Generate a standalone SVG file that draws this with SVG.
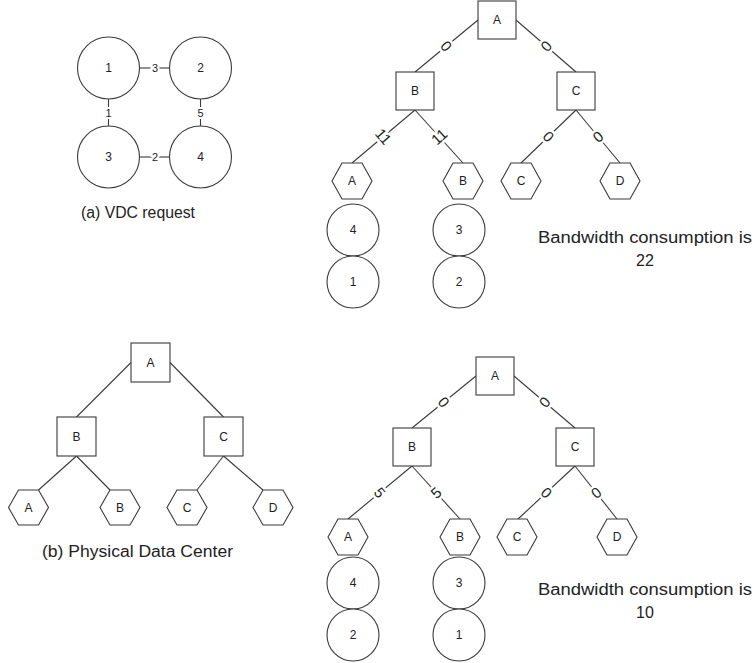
<svg xmlns="http://www.w3.org/2000/svg" xmlns:xlink="http://www.w3.org/1999/xlink" width="756" height="663" viewBox="0 0 756 663">
<style>
.shape{fill:#fff;stroke:#3a3a3a;stroke-width:1.1}
.edge{stroke:#3a3a3a;stroke-width:1.1;fill:none}
.lbl{font-family:"Liberation Sans",Arial,sans-serif;font-size:12px;fill:#222;text-anchor:middle;dominant-baseline:central}
.el{font-family:"Liberation Sans",Arial,sans-serif;font-size:15px;fill:#222;text-anchor:middle;dominant-baseline:central;stroke:#fff;stroke-width:5px;paint-order:stroke}
.vl{font-family:"Liberation Sans",Arial,sans-serif;font-size:11px;fill:#222;text-anchor:middle;dominant-baseline:central;stroke:#fff;stroke-width:4px;paint-order:stroke}
.cap{font-family:"Liberation Sans",Arial,sans-serif;font-size:16px;fill:#222}
</style>
<defs>
<polygon id="hex" class="shape" points="-20,0 -10,-18 10,-18 20,0 10,18 -10,18"/>
<polygon id="hexs" class="shape" points="-20,0 -10,-17.5 10,-17.5 20,0 10,17.5 -10,17.5"/>
</defs>

<!-- (a) VDC request -->
<g id="vdc-connectors">
<line class="edge" x1="139.5" y1="68" x2="169.5" y2="68"/>
<line class="edge" x1="108.5" y1="99" x2="108.5" y2="126"/>
<line class="edge" x1="200.5" y1="99" x2="200.5" y2="126"/>
<line class="edge" x1="139.5" y1="157" x2="169.5" y2="157"/>
<text class="vl" x="155" y="68">3</text>
<text class="vl" x="108.5" y="113">1</text>
<text class="vl" x="200.5" y="113">5</text>
<text class="vl" x="155" y="157">2</text>
</g>
<g id="vdc1"><circle class="shape" cx="108.5" cy="68" r="31"/><text class="lbl" x="108.5" y="68">1</text></g>
<g id="vdc2"><circle class="shape" cx="200.5" cy="68" r="31"/><text class="lbl" x="200.5" y="68">2</text></g>
<g id="vdc3"><circle class="shape" cx="108.5" cy="157" r="31"/><text class="lbl" x="108.5" y="157">3</text></g>
<g id="vdc4"><circle class="shape" cx="200.5" cy="157" r="31"/><text class="lbl" x="200.5" y="157">4</text></g>
<text class="cap" x="81" y="218" textLength="114" lengthAdjust="spacingAndGlyphs">(a) VDC request</text>

<!-- (b) Physical Data Center -->
<g id="pdc-connectors">
<line class="edge" x1="131" y1="362.5" x2="76.5" y2="417"/>
<line class="edge" x1="170" y1="362.5" x2="223.5" y2="417"/>
<line class="edge" x1="76.5" y1="456" x2="38.5" y2="490"/>
<line class="edge" x1="76.5" y1="456" x2="110" y2="490"/>
<line class="edge" x1="223.5" y1="456" x2="197" y2="490"/>
<line class="edge" x1="223.5" y1="456" x2="263" y2="490"/>
</g>
<g id="pdcA"><rect class="shape" x="131" y="343" width="39" height="39"/><text class="lbl" x="150.5" y="362.5">A</text></g>
<g id="pdcB"><rect class="shape" x="57" y="417" width="39" height="39"/><text class="lbl" x="76.5" y="436.5">B</text></g>
<g id="pdcC"><rect class="shape" x="204" y="417" width="39" height="39"/><text class="lbl" x="223.5" y="436.5">C</text></g>
<g id="pdcHA"><use xlink:href="#hexs" x="28.5" y="507.5"/><text class="lbl" x="28.5" y="507.5">A</text></g>
<g id="pdcHB"><use xlink:href="#hexs" x="120" y="507.5"/><text class="lbl" x="120" y="507.5">B</text></g>
<g id="pdcHC"><use xlink:href="#hexs" x="187" y="507.5"/><text class="lbl" x="187" y="507.5">C</text></g>
<g id="pdcHD"><use xlink:href="#hexs" x="273" y="507.5"/><text class="lbl" x="273" y="507.5">D</text></g>
<text class="cap" x="42" y="557" textLength="191" lengthAdjust="spacingAndGlyphs">(b) Physical Data Center</text>

<!-- Top-right embedding -->
<g id="t1-connectors">
<line class="edge" x1="478" y1="20" x2="415" y2="72"/>
<line class="edge" x1="516" y1="20" x2="576" y2="72"/>
<line class="edge" x1="415" y1="110" x2="352" y2="163"/>
<line class="edge" x1="415" y1="110" x2="463" y2="163"/>
<line class="edge" x1="576" y1="110" x2="521" y2="163"/>
<line class="edge" x1="576" y1="110" x2="620" y2="163"/>
<text class="el" transform="translate(446.5,46) rotate(50.5)">0</text>
<text class="el" transform="translate(546,46) rotate(-49)">0</text>
<text class="el" transform="translate(383.5,136.5) rotate(50)">11</text>
<text class="el" transform="translate(439,136.5) rotate(-42)">11</text>
<text class="el" transform="translate(548.5,136.5) rotate(46)">0</text>
<text class="el" transform="translate(598,136.5) rotate(-40)">0</text>
</g>
<g id="t1A"><rect class="shape" x="478" y="1" width="38" height="38"/><text class="lbl" x="497" y="20">A</text></g>
<g id="t1B"><rect class="shape" x="396" y="72" width="38" height="38"/><text class="lbl" x="415" y="91">B</text></g>
<g id="t1C"><rect class="shape" x="557" y="72" width="38" height="38"/><text class="lbl" x="576" y="91">C</text></g>
<g id="t1HA"><use xlink:href="#hex" x="352" y="181"/><text class="lbl" x="352" y="181">A</text></g>
<g id="t1HB"><use xlink:href="#hex" x="463" y="181"/><text class="lbl" x="463" y="181">B</text></g>
<g id="t1HC"><use xlink:href="#hex" x="521" y="181"/><text class="lbl" x="521" y="181">C</text></g>
<g id="t1HD"><use xlink:href="#hex" x="620" y="181"/><text class="lbl" x="620" y="181">D</text></g>
<g id="t1V4"><circle class="shape" cx="353" cy="230" r="26"/><text class="lbl" x="353" y="230">4</text></g>
<g id="t1V1"><circle class="shape" cx="353" cy="282" r="26"/><text class="lbl" x="353" y="282">1</text></g>
<g id="t1V3"><circle class="shape" cx="459" cy="230" r="26"/><text class="lbl" x="459" y="230">3</text></g>
<g id="t1V2"><circle class="shape" cx="459" cy="282" r="26"/><text class="lbl" x="459" y="282">2</text></g>
<text class="cap" x="538" y="243" textLength="214" lengthAdjust="spacingAndGlyphs">Bandwidth consumption is</text>
<text class="cap" x="645" y="266" text-anchor="middle">22</text>

<!-- Bottom-right embedding -->
<g id="t2-connectors">
<line class="edge" x1="476" y1="376" x2="412" y2="428"/>
<line class="edge" x1="514" y1="376" x2="575" y2="428"/>
<line class="edge" x1="412" y1="466" x2="348" y2="519"/>
<line class="edge" x1="412" y1="466" x2="460" y2="519"/>
<line class="edge" x1="575" y1="466" x2="518" y2="519"/>
<line class="edge" x1="575" y1="466" x2="617" y2="519"/>
<text class="el" transform="translate(444,402) rotate(51)">0</text>
<text class="el" transform="translate(544.5,402) rotate(-49.6)">0</text>
<text class="el" transform="translate(380,492.5) rotate(50.4)">5</text>
<text class="el" transform="translate(436,492.5) rotate(-42)">5</text>
<text class="el" transform="translate(546.5,492.5) rotate(47)">0</text>
<text class="el" transform="translate(596,492.5) rotate(-38.4)">0</text>
</g>
<g id="t2A"><rect class="shape" x="476" y="357" width="38" height="38"/><text class="lbl" x="495" y="376">A</text></g>
<g id="t2B"><rect class="shape" x="393" y="428" width="38" height="38"/><text class="lbl" x="412" y="447">B</text></g>
<g id="t2C"><rect class="shape" x="556" y="428" width="38" height="38"/><text class="lbl" x="575" y="447">C</text></g>
<g id="t2HA"><use xlink:href="#hex" x="348" y="537"/><text class="lbl" x="348" y="537">A</text></g>
<g id="t2HB"><use xlink:href="#hex" x="460" y="537"/><text class="lbl" x="460" y="537">B</text></g>
<g id="t2HC"><use xlink:href="#hex" x="517" y="537"/><text class="lbl" x="517" y="537">C</text></g>
<g id="t2HD"><use xlink:href="#hex" x="617" y="537"/><text class="lbl" x="617" y="537">D</text></g>
<g id="t2V4"><circle class="shape" cx="353" cy="583" r="26"/><text class="lbl" x="353" y="583">4</text></g>
<g id="t2V2"><circle class="shape" cx="353" cy="635" r="26"/><text class="lbl" x="353" y="635">2</text></g>
<g id="t2V3"><circle class="shape" cx="459" cy="583" r="26"/><text class="lbl" x="459" y="583">3</text></g>
<g id="t2V1"><circle class="shape" cx="459" cy="635" r="26"/><text class="lbl" x="459" y="635">1</text></g>
<text class="cap" x="538" y="595" textLength="214" lengthAdjust="spacingAndGlyphs">Bandwidth consumption is</text>
<text class="cap" x="645" y="618" text-anchor="middle">10</text>
</svg>
